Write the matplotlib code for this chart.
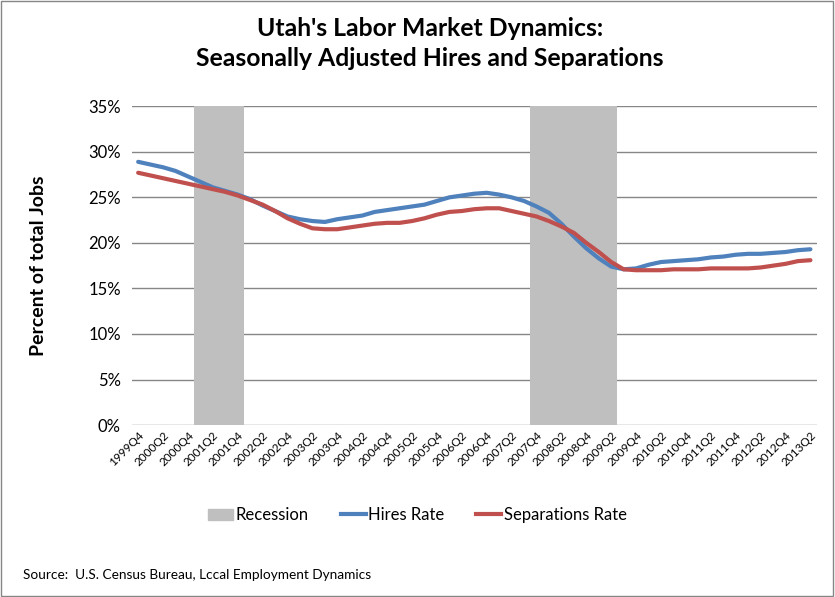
import matplotlib.pyplot as plt
import matplotlib.patches as mpatches
from matplotlib.lines import Line2D
from matplotlib.ticker import PercentFormatter

# quarters 1999Q4 .. 2013Q2
quarters = ['1999Q4'] + [f'{y}Q{q}' for y in range(2000, 2013) for q in range(1, 5)] + ['2013Q1', '2013Q2']

hires = [28.9, 28.6, 28.3, 27.9, 27.3, 26.7, 26.1, 25.7, 25.3, 24.8,
         24.1, 23.5, 22.9, 22.6, 22.4, 22.3, 22.6, 22.8, 23.0, 23.4,
         23.6, 23.8, 24.0, 24.2, 24.6, 25.0, 25.2, 25.4, 25.5, 25.3,
         25.0, 24.6, 24.0, 23.3, 22.1, 20.7, 19.4, 18.3, 17.4, 17.1,
         17.2, 17.6, 17.9, 18.0, 18.1, 18.2, 18.4, 18.5, 18.7, 18.8,
         18.8, 18.9, 19.0, 19.2, 19.3]

separations = [27.7, 27.4, 27.1, 26.8, 26.5, 26.2, 25.9, 25.6, 25.2, 24.7,
               24.2, 23.5, 22.7, 22.1, 21.6, 21.5, 21.5, 21.7, 21.9, 22.1,
               22.2, 22.2, 22.4, 22.7, 23.1, 23.4, 23.5, 23.7, 23.8, 23.8,
               23.5, 23.2, 22.9, 22.4, 21.8, 21.1, 20.0, 19.0, 17.9, 17.1,
               17.0, 17.0, 17.0, 17.1, 17.1, 17.1, 17.2, 17.2, 17.2, 17.2,
               17.3, 17.5, 17.7, 18.0, 18.1]

recession_quarters = ['2001Q1', '2001Q2', '2001Q3', '2001Q4',
                      '2007Q4', '2008Q1', '2008Q2', '2008Q3', '2008Q4', '2009Q1', '2009Q2']
recession_height = 35

plt.rcParams['font.family'] = ['Lato', 'DejaVu Sans']

fig = plt.figure(figsize=(8.35, 5.97), dpi=100)
ax = fig.add_axes([0.158, 0.288, 0.82, 0.534])

x = list(range(len(quarters)))
rec_x = [quarters.index(q) for q in recession_quarters]
ax.bar(rec_x, [recession_height] * len(rec_x), width=1.0, color='#BFBFBF', zorder=1)
ax.plot(x, hires, color='#4F81BD', lw=3, solid_capstyle='round', zorder=3)
ax.plot(x, separations, color='#C0504D', lw=3, solid_capstyle='round', zorder=3)

ax.set_xlim(-0.5, len(quarters) - 0.5)
ax.set_ylim(0, 35)
ax.set_yticks(range(0, 36, 5))
ax.yaxis.set_major_formatter(PercentFormatter(decimals=0))
ax.grid(axis='y', color='#868686', lw=1, zorder=0)
ax.set_axisbelow(True)
for s in ax.spines.values():
    s.set_visible(False)
ax.tick_params(length=0)
ax.tick_params(axis='y', labelsize=12, pad=8)
ax.set_xticks(x[::2])
ax.set_xticklabels(quarters[::2], rotation=45, ha='right', rotation_mode='anchor', fontsize=8.5)

ax.set_ylabel('Percent of total Jobs', fontsize=14, fontweight='bold', labelpad=30)

fig.text(0.515, 0.927, "Utah's Labor Market Dynamics:\nSeasonally Adjusted Hires and Separations",
         ha='center', va='center', fontsize=17.8, fontweight='bold', linespacing=1.4)

handles = [mpatches.Patch(color='#BFBFBF', label='Recession'),
           Line2D([], [], color='#4F81BD', lw=3, label='Hires Rate'),
           Line2D([], [], color='#C0504D', lw=3, label='Separations Rate')]
fig.legend(handles=handles, loc='center', bbox_to_anchor=(0.5, 0.137), ncol=3, frameon=False,
           fontsize=12, handlelength=1.5, columnspacing=1.9, handletextpad=0.15)

fig.text(0.027, 0.03, 'Source:  U.S. Census Bureau, Lccal Employment Dynamics', fontsize=9.8)

fig.patches.append(mpatches.Rectangle((0.001, 0.002), 0.997, 0.996, transform=fig.transFigure,
                                      fill=False, edgecolor='#868686', lw=1))

fig.savefig('out.png', dpi=100)
